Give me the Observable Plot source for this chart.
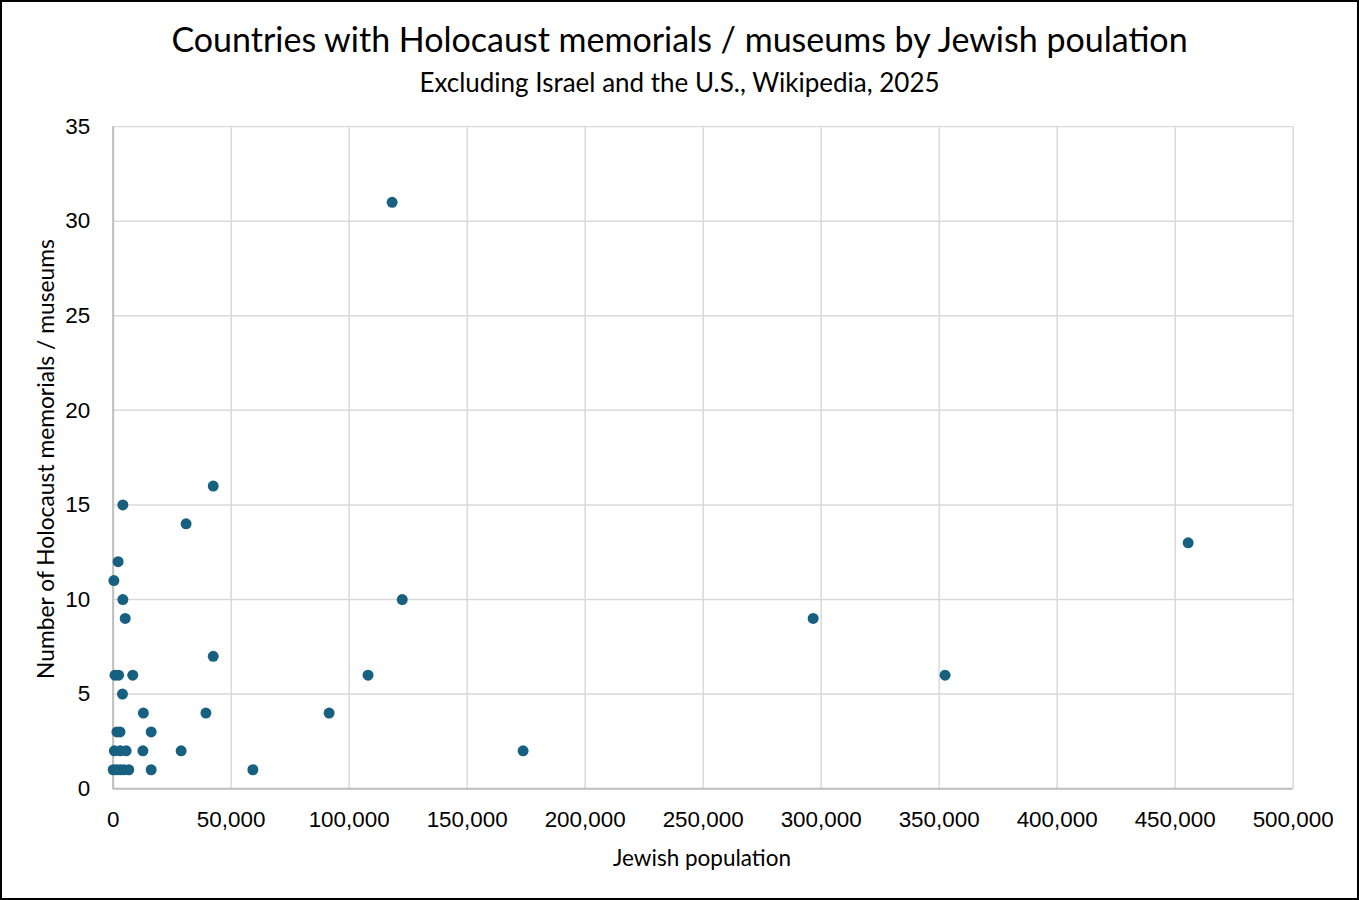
<!DOCTYPE html>
<html><head><meta charset="utf-8">
<script src="https://cdn.jsdelivr.net/npm/d3@7"></script>
<script src="https://cdn.jsdelivr.net/npm/@observablehq/plot@0.6"></script>
<style>
html,body{margin:0;padding:0;background:#fff;}
#wrap{position:relative;width:1359px;height:900px;box-sizing:border-box;border:2px solid #000;overflow:hidden;}
#wrap svg{position:absolute;left:-2px;top:-2px;}
.t{position:absolute;left:-2px;width:1359px;text-align:center;font-family:Lato,"Open Sans",sans-serif;color:#000;white-space:nowrap;}
#title{top:16px;font-size:34px;}
#sub{top:64px;font-size:26px;}
#xl{top:842px;left:500px;width:400px;font-size:22.5px;}
#yl{top:443px;left:-257px;width:600px;font-size:22.8px;transform:rotate(-90deg);}
</style></head>
<body><div id="wrap">
<div class="t" id="title">Countries with Holocaust memorials / museums by Jewish poulation</div>
<div class="t" id="sub">Excluding Israel and the U.S., Wikipedia, 2025</div>
</div>
<script>
const population = [118200,455500,122500,296600,352500,108000,91500,173700,42400,30900,4100,2100,300,4100,5100,42400,750,2300,8300,3950,12800,39300,1600,2900,16100,500,3000,5500,12600,28800,0,1500,3000,4500,6600,16100,59200];
const memorials  = [31,13,10,9,6,6,4,2,16,14,15,12,11,10,9,7,6,6,6,5,4,4,3,3,3,2,2,2,2,2,1,1,1,1,1,1,1];
const xTicks = [0,50000,100000,150000,200000,250000,300000,350000,400000,450000,500000];
const yTicks = [0,5,10,15,20,25,30,35];
const xLabel = "Jewish population";
const yLabel = "Number of Holocaust memorials / museums";
const data = population.map((p,i)=>({p, m: memorials[i]}));
const fmt = d3.format(",");
const tickFont = "'Liberation Sans',Arial,sans-serif";
const chart = Plot.plot({
  width:1359, height:900,
  marginTop:126.5, marginBottom:109.5, marginLeft:113, marginRight:62.5,
  style:{fontFamily:tickFont, fontSize:"22px", background:"transparent"},
  x:{domain:[0,500000], ticks:xTicks, tickFormat:fmt, label:null},
  y:{domain:[0,35], ticks:yTicks, label:null},
  marks:[
    Plot.gridX(xTicks,{stroke:"#d9d9d9", strokeOpacity:1, strokeWidth:1.5}),
    Plot.gridY(yTicks,{stroke:"#d9d9d9", strokeOpacity:1, strokeWidth:1.5}),
    Plot.ruleX([0],{stroke:"#bfbfbf", strokeWidth:2}),
    Plot.ruleY([0],{stroke:"#bfbfbf", strokeWidth:2}),
    Plot.axisX(xTicks,{tickSize:0, tickPadding:22, tickFormat:fmt, fontSize:22.5, fontFamily:tickFont, fill:"#000", label:null}),
    Plot.axisY(yTicks,{tickSize:0, tickPadding:23, fontSize:22.5, fontFamily:tickFont, fill:"#000", label:null}),
    Plot.dot(data,{x:"p", y:"m", r:5.5, fill:"#17607f", stroke:"none"})
  ]
});
const wrap = document.getElementById("wrap");
wrap.appendChild(chart);
const xl = document.createElement("div"); xl.className="t"; xl.id="xl"; xl.textContent=xLabel; wrap.appendChild(xl);
const yl = document.createElement("div"); yl.className="t"; yl.id="yl"; yl.textContent=yLabel; wrap.appendChild(yl);
</script>
</body></html>
